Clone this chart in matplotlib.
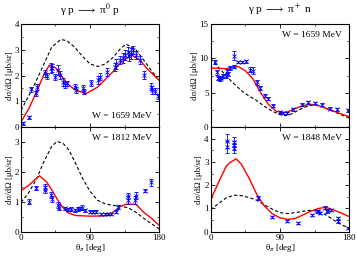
import numpy as np
import matplotlib
matplotlib.use('Agg')
import matplotlib.pyplot as plt
from matplotlib.ticker import MultipleLocator

plt.rcParams['font.family'] = ['Liberation Serif', 'DejaVu Serif']
plt.rcParams['mathtext.fontset'] = 'stix'
plt.rcParams['font.size'] = 7

# --- gamma p -> pi0 p, W = 1659 MeV
a_th = [3, 11, 13.5, 20, 20.5, 31, 34, 38.5, 40, 45, 48, 51.5, 55, 58, 60.5, 70, 72, 81, 82, 91.5, 100.5, 102.5,
        112.5, 122, 124, 128.5, 133, 135, 139.5, 141, 143, 146, 150, 155, 161, 169, 171, 174.5, 178.5]
a_y = [0.14, 0.38, 1.46, 1.31, 1.55, 2.08, 1.98, 2.28, 2.3, 1.95, 2.21, 2.02, 1.75, 1.62, 1.7, 1.56, 1.45, 1.5,
       1.37, 1.7, 1.83, 1.96, 2.15, 2.34, 2.46, 2.6, 2.67, 2.8, 2.92, 2.75, 2.85, 2.99, 2.8, 2.6, 2.02, 1.57,
       1.43, 1.4, 1.2]
a_e = [0.05, 0.06, 0.1, 0.1, 0.12, 0.12, 0.1, 0.2, 0.15, 0.12, 0.2, 0.15, 0.15, 0.12, 0.1, 0.1, 0.12, 0.12,
       0.1, 0.12, 0.15, 0.12, 0.15, 0.15, 0.2, 0.15, 0.2, 0.2, 0.2, 0.2, 0.2, 0.15, 0.15, 0.15, 0.15, 0.12,
       0.15, 0.12, 0.1]
a_red_th = [0, 10, 20, 30, 37, 45, 60, 70, 85, 100, 110, 120, 130, 144, 155, 165, 180]
a_red = [0.2, 0.7, 1.35, 2.05, 2.4, 2.3, 1.7, 1.45, 1.3, 1.55, 1.85, 2.15, 2.5, 2.8, 2.6, 2.25, 1.82]
a_dash_th = [0, 10, 20, 30, 40, 52, 60, 70, 80, 90, 100, 110, 120, 130, 137, 150, 160, 170, 180]
a_dash = [0.65, 1.2, 1.8, 2.45, 3.1, 3.4, 3.35, 3.1, 2.75, 2.45, 2.35, 2.45, 2.7, 3.05, 3.22, 3.0, 2.6, 2.2, 1.8]

# --- gamma p -> pi0 p, W = 1812 MeV
b_th = [11, 20, 31, 31.5, 39.5, 40.5, 48, 49, 57, 61.5, 65, 70, 74, 76.5, 79, 83, 89.5, 94, 98, 104.5, 109,
        113, 117, 123.5, 127, 139.5, 140, 149, 149.5, 162, 170]
b_y = [1.0, 1.46, 1.51, 1.4, 1.23, 1.1, 0.9, 0.8, 0.78, 0.74, 0.76, 0.72, 0.75, 0.78, 0.8, 0.72, 0.67, 0.67,
       0.67, 0.6, 0.6, 0.6, 0.6, 0.67, 0.83, 1.06, 1.2, 1.06, 1.2, 1.37, 1.65]
b_e = [0.08, 0.07, 0.1, 0.12, 0.1, 0.1, 0.1, 0.08, 0.06, 0.06, 0.06, 0.05, 0.06, 0.06, 0.08, 0.05, 0.05,
       0.05, 0.05, 0.04, 0.04, 0.04, 0.04, 0.05, 0.06, 0.12, 0.1, 0.15, 0.12, 0.05, 0.12]
b_red_th = [0, 10, 24, 33, 40, 48, 55, 62, 72, 90, 110, 120, 130, 137, 150, 160, 170, 180]
b_red = [1.37, 1.55, 1.87, 1.68, 1.4, 1.06, 0.8, 0.62, 0.54, 0.52, 0.53, 0.65, 0.85, 0.92, 0.92, 0.65, 0.45, 0.22]
b_dash_th = [0, 10, 20, 30, 40, 47, 55, 62, 70, 80, 90, 100, 110, 120, 130, 140, 150, 160, 170, 180]
b_dash = [0.98, 1.3, 1.75, 2.35, 2.85, 3.02, 2.95, 2.75, 2.35, 1.8, 1.35, 1.05, 0.93, 0.88, 0.85, 0.8,
          0.65, 0.45, 0.27, 0.1]

# --- gamma p -> pi+ n, W = 1659 MeV
c_th = [5.6, 7.8, 9.9, 12, 14, 16.3, 19.5, 20.8, 23, 25.1, 30.8, 30.8, 36, 40.3, 45.5, 51.2, 55.5, 60, 64.2,
        70.7, 75, 80.7, 90.2, 94.5, 99, 107.5, 118.5, 127, 135, 144.5, 155.3, 164, 179]
c_y = [9.5, 7.96, 7.14, 7.0, 7.2, 7.4, 7.4, 8.1, 7.7, 8.6, 10.4, 8.8, 9.45, 9.45, 9.55, 8.35, 8.2, 6.5, 5.7,
       4.58, 4.1, 3.1, 2.17, 2.1, 2.1, 2.55, 3.27, 3.6, 3.5, 3.27, 2.65, 2.55, 2.45]
c_e = [0.3, 0.4, 0.3, 0.25, 0.25, 0.25, 0.25, 0.3, 0.3, 0.3, 0.6, 0.25, 0.2, 0.2, 0.25, 0.4, 0.5, 0.35, 0.3,
       0.25, 0.2, 0.2, 0.2, 0.15, 0.15, 0.2, 0.2, 0.25, 0.2, 0.2, 0.2, 0.2, 0.2]
c_red_th = [0, 10, 20, 30, 36, 45, 55, 65, 75, 85, 92, 100, 110, 120, 130, 140, 150, 160, 170, 180]
c_red = [8.6, 8.55, 8.5, 8.7, 8.8, 8.2, 7.0, 5.0, 3.3, 2.3, 2.1, 2.2, 2.7, 3.1, 3.3, 3.1, 2.7, 2.3, 1.9, 1.5]
c_dash_th = [0, 10, 20, 27, 40, 50, 58, 70, 80, 90, 97, 105, 115, 125, 134, 145, 155, 165, 180]
c_dash = [10.0, 8.7, 7.5, 6.65, 5.3, 4.5, 4.0, 3.0, 2.3, 1.8, 1.65, 1.9, 2.5, 3.0, 3.25, 3.0, 2.5, 2.0, 1.3]

# --- gamma p -> pi+ n, W = 1848 MeV
d_th = [20.8, 20.8, 30.3, 30.3, 30.3, 61.2, 79.4, 99, 114, 131.5, 138, 140, 142, 148, 151, 153, 157, 165,
        166, 178.4]
d_y = [3.88, 3.65, 3.85, 3.72, 3.58, 1.44, 0.62, 0.47, 0.39, 0.72, 0.9, 0.87, 0.8, 1.03, 0.87, 0.94, 0.94,
       0.58, 0.45, 0.15]
d_e = [0.3, 0.25, 0.2, 0.2, 0.2, 0.08, 0.05, 0.04, 0.04, 0.05, 0.05, 0.05, 0.05, 0.06, 0.05, 0.05, 0.05,
       0.06, 0.06, 0.05]
d_red_th = [0, 10, 20, 25, 33, 40, 50, 60, 70, 80, 90, 100, 110, 120, 130, 140, 150, 160, 170, 180]
d_red = [1.37, 2.1, 2.8, 2.97, 3.13, 2.9, 2.3, 1.6, 1.1, 0.77, 0.6, 0.53, 0.57, 0.72, 0.88, 1.0, 1.05, 0.93,
         0.8, 0.65]
d_dash_th = [0, 10, 20, 30, 40, 50, 60, 70, 80, 90, 100, 110, 120, 130, 140, 150, 160, 170, 180]
d_dash = [0.95, 1.2, 1.45, 1.57, 1.55, 1.47, 1.35, 1.15, 0.97, 0.82, 0.78, 0.82, 0.88, 0.92, 0.88, 0.72,
          0.5, 0.3, 0.15]

fig = plt.figure(figsize=(3.57, 2.57), dpi=100)
L = [0.0588, 0.590]
W = [0.3866, 0.388]
bot, mid, top = 0.0984, 0.5058, 0.9066

panels = [
    (L[0], mid, W[0], (a_th, a_y, a_e), (a_red_th, a_red), (a_dash_th, a_dash), (0, 4), 1, 0.5, 'W = 1659 MeV', 'low'),
    (L[0], bot, W[0], (b_th, b_y, b_e), (b_red_th, b_red), (b_dash_th, b_dash), (0, 3.5), 1, 0.5, 'W = 1812 MeV', 'high'),
    (L[1], mid, W[1], (c_th, c_y, c_e), (c_red_th, c_red), (c_dash_th, c_dash), (0, 15), 5, 2.5, 'W = 1659 MeV', 'high'),
    (L[1], bot, W[1], (d_th, d_y, d_e), (d_red_th, d_red), (d_dash_th, d_dash), (0, 4.5), 1, 0.5, 'W = 1848 MeV', 'high'),
]

for i, (x0, y0, w, pts, red, dash, ylim, maj, mnr, label, pos) in enumerate(panels):
    ax = fig.add_axes([x0, y0, w, top - mid if y0 == mid else mid - bot])
    ax.plot(dash[0], dash[1], color='black', lw=0.8, ls=(0, (3, 2)))
    ax.plot(red[0], red[1], color='red', lw=1.0)
    ax.errorbar(pts[0], pts[1], yerr=pts[2], fmt='x', color='blue', ms=2.2, mew=0.6,
                elinewidth=0.6, capsize=1.2, capthick=0.5)
    ax.set_xlim(0, 180)
    ax.set_ylim(*ylim)
    ax.xaxis.set_major_locator(MultipleLocator(90))
    ax.xaxis.set_minor_locator(MultipleLocator(45))
    ax.yaxis.set_major_locator(MultipleLocator(maj))
    ax.yaxis.set_minor_locator(MultipleLocator(mnr))
    ax.tick_params(which='both', direction='in', top=True, right=True, labelsize=6.5, pad=1.5)
    ax.tick_params(which='major', length=3, width=0.6)
    ax.tick_params(which='minor', length=1.5, width=0.5)
    for s in ax.spines.values():
        s.set_linewidth(0.8)
    ax.set_ylabel('dσ/dΩ [μb/sr]', fontsize=6.3, labelpad=0.5)
    if y0 == bot:
        ax.set_xlabel(r'θ$_\pi$ [deg]', fontsize=6.5, labelpad=0)
    else:
        ax.set_xticklabels([])
    if pos == 'low':
        ax.text(0.95, 0.07, label, transform=ax.transAxes, ha='right', va='bottom', fontsize=6.8)
    else:
        ax.text(0.95, 0.93, label, transform=ax.transAxes, ha='right', va='top', fontsize=6.8)

fig.text(0.253, 0.96, r'γ p $\longrightarrow$ π$^0$ p', ha='center', va='center', fontsize=8)
fig.text(0.784, 0.96, r'γ p $\longrightarrow$ π$^+$ n', ha='center', va='center', fontsize=8)

fig.savefig('out.png', dpi=100)
